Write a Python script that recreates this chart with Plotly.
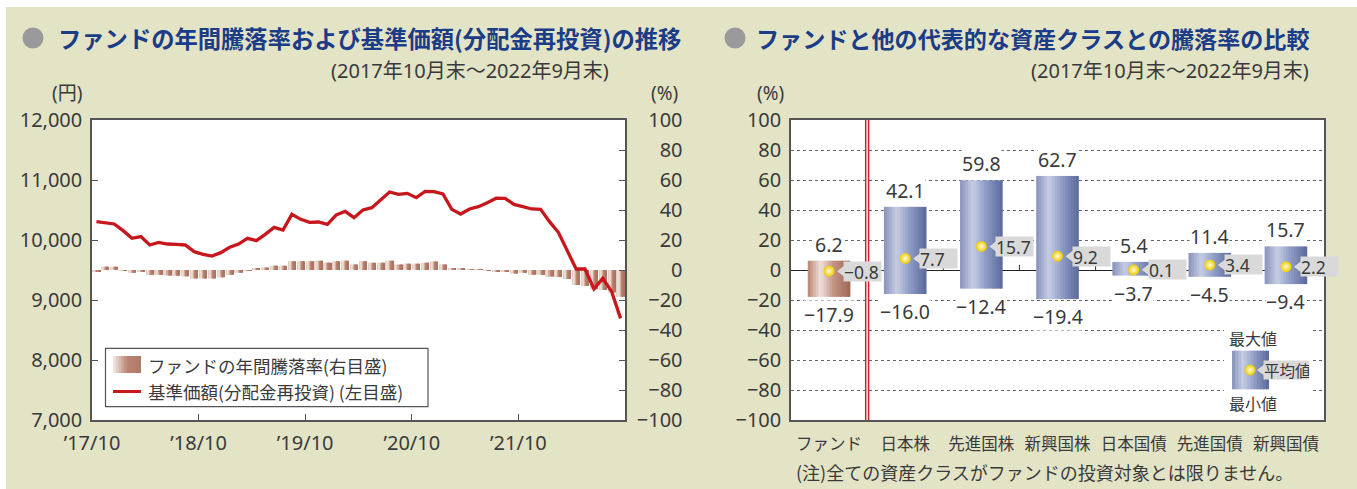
import plotly.graph_objects as go

W, H = 1357, 489

# ---------------- data ----------------
tick_labels_left = ["’17/10", "’18/10", "’19/10", "’20/10", "’21/10"]

# 基準価額（分配金再投資） monthly, 2017/10 .. 2022/09 (円)
nav = [10306, 10283, 10267, 10156, 10028, 10056, 9917, 9961, 9933, 9928,
       9917, 9806, 9761, 9733, 9789, 9878, 9933, 10028, 9989, 10094,
       10211, 10167, 10428, 10344, 10294, 10300, 10261, 10417, 10478, 10372,
       10500, 10539, 10667, 10800, 10761, 10778, 10706, 10811, 10806, 10767,
       10511, 10433, 10517, 10556, 10622, 10697, 10694, 10594, 10556, 10517,
       10511, 10306, 10128, 9833, 9517, 9517, 9183, 9361, 9139, 8694]

# ファンドの年間騰落率 (%)
annual_return = [-0.8, 2.2, 2.2, -0.2, -1.8, -1.1, -3.1, -3.1, -3.6, -3.8,
                 -4.2, -5.6, -5.6, -5.6, -4.9, -3.1, -1.8, -0.3, 0.7, 1.6,
                 2.9, 2.9, 5.8, 5.8, 5.8, 6.2, 4.9, 5.8, 6.2, 3.6,
                 5.8, 4.9, 4.9, 6.2, 3.6, 4.2, 4.2, 4.9, 5.6, 3.6,
                 0.9, 0.9, 0.2, 0.2, -0.4, -0.8, -1.0, -2.4, -1.8, -3.1,
                 -3.1, -4.4, -4.7, -6.0, -10.0, -10.7, -12.9, -13.3, -15.0, -17.9]

categories = ["ファンド", "日本株", "先進国株", "新興国株", "日本国債", "先進国債", "新興国債"]
max_ret = [6.2, 42.1, 59.8, 62.7, 5.4, 11.4, 15.7]
avg_ret = [-0.8, 7.7, 15.7, 9.2, 0.1, 3.4, 2.2]
min_ret = [-17.9, -16.0, -12.4, -19.4, -3.7, -4.5, -9.4]

pct_ticks = [100, 80, 60, 40, 20, 0, -20, -40, -60, -80, -100]

# ---------------- helpers ----------------
def fx(p):
    return p / W

def fy(p):
    return 1 - p / H

def hex2rgb(h):
    h = h.lstrip("#")
    return tuple(int(h[i:i + 2], 16) for i in (0, 2, 4))

def interp(stops, t):
    for (t0, c0), (t1, c1) in zip(stops[:-1], stops[1:]):
        if t0 <= t <= t1:
            a = (t - t0) / (t1 - t0) if t1 > t0 else 0
            r0, r1 = hex2rgb(c0), hex2rgb(c1)
            return "rgb(%d,%d,%d)" % tuple(round(r0[i] + (r1[i] - r0[i]) * a) for i in range(3))
    return stops[-1][1]

def fmt(v):
    return ("%.1f" % v).replace("-", "−")

def pad_tick(v):
    s = str(abs(v))
    if v < 0:
        s = "−" + s
    return "\u2007" * (4 - len(s)) + s

FONT = "Noto Sans, Noto Sans CJK JP, sans-serif"
JP = "Noto Sans CJK JP, Noto Sans, sans-serif"
TXT = "#3a3a3a"
AX = "#555555"

left_stops = [(0, "#dcc5bb"), (0.3, "#f1e6e1"), (0.65, "#b9836f"), (1, "#a96f5c")]
brown_stops = [(0, "#b9826f"), (0.3, "#f0e2dc"), (0.6, "#c39484"), (1, "#9d6553")]
blue_stops = [(0, "#8792bc"), (0.3, "#c6cde3"), (0.6, "#8f9cc5"), (1, "#5a699b")]
legend_stops = [(0, "#f3ece8"), (0.5, "#ba8573"), (1, "#b07a68")]

fig = go.Figure()

# ---------------- left chart: bars (gradient slices) ----------------
n = len(nav)
xs = list(range(n))
NS = 7
BW = 0.82
for k in range(NS):
    w = BW / NS
    fig.add_trace(go.Bar(
        x=xs, y=annual_return, width=w * 1.3 if k < NS - 1 else w,
        offset=-BW / 2 + k * w,
        marker=dict(color=interp(left_stops, (k + 0.5) / NS), line=dict(width=0)),
        xaxis="x", yaxis="y", hoverinfo="skip", showlegend=False))

# line (yen, left axis)
fig.add_trace(go.Scatter(
    x=xs, y=nav, mode="lines", line=dict(color="#c8161d", width=3.3),
    xaxis="x", yaxis="y2", hoverinfo="skip", showlegend=False))

# ---------------- right chart: floating bars ----------------
cx = list(range(len(categories)))
heights = [mx - mn for mx, mn in zip(max_ret, min_ret)]
RNS = 16
RW = 0.56
for k in range(RNS):
    w = RW / RNS
    t = (k + 0.5) / RNS
    cols = [interp(brown_stops if c == 0 else blue_stops, t) for c in cx]
    fig.add_trace(go.Bar(
        x=cx, y=heights, base=min_ret, width=w * 1.3 if k < RNS - 1 else w,
        offset=-RW / 2 + k * w,
        marker=dict(color=cols, line=dict(width=0)),
        xaxis="x2", yaxis="y3", hoverinfo="skip", showlegend=False))

PX_PER_CAT = (1324 - 791) / len(categories)
PX_PER_PCT = 300 / 200.0

def cat_x(px):
    return (px - 791) / PX_PER_CAT - 0.5

def pct_y(py):
    return (270 - py) / PX_PER_PCT

# legend inside right chart (coordinates of the key)
key_dot_x = [cat_x(1250)]
key_dot_y = [pct_y(370)]

# average markers (tags)
fig.add_trace(go.Scatter(
    x=[c + 16 / PX_PER_CAT for c in cx] + [key_dot_x[0] + 15 / PX_PER_CAT],
    y=avg_ret + key_dot_y,
    mode="markers", marker=dict(symbol="triangle-left", size=16, color="#d9d9d9", line=dict(width=0)),
    xaxis="x2", yaxis="y3", hoverinfo="skip", showlegend=False))
fig.add_trace(go.Scatter(
    x=cx + key_dot_x, y=avg_ret + key_dot_y, mode="markers",
    marker=dict(size=11, color="#eccb00", gradient=dict(type="radial", color="#fffbe0"), line=dict(width=0)),
    xaxis="x2", yaxis="y3", hoverinfo="skip", showlegend=False))

annotations = []
shapes = []

for c, v in zip(cx, avg_ret):
    annotations.append(dict(x=c, y=v, xref="x2", yref="y3", text=fmt(v), showarrow=False,
                            xanchor="left", yanchor="middle", xshift=14, width=37, height=19,
                            align="left", bgcolor="#d9d9d9", borderpad=0,
                            font=dict(family=FONT, size=17.5, color=TXT)))
for c, v in zip(cx, max_ret):
    annotations.append(dict(x=c, y=v, xref="x2", yref="y3", text=fmt(v), showarrow=False,
                            xanchor="center", yanchor="bottom", yshift=2, bgcolor="white", borderpad=0,
                            font=dict(family=FONT, size=19.5, color=TXT)))
for c, v in zip(cx, min_ret):
    annotations.append(dict(x=c, y=v, xref="x2", yref="y3", text=fmt(v), showarrow=False,
                            xanchor="center", yanchor="top", yshift=-3, bgcolor="white", borderpad=0,
                            font=dict(family=FONT, size=19.5, color=TXT)))

# key box in right chart
shapes.append(dict(type="rect", xref="x2", yref="y3", x0=cat_x(1224), x1=cat_x(1313),
                   y0=pct_y(326), y1=pct_y(395), fillcolor="white", line=dict(width=0), layer="between"))
KN = 12
kx0, kx1 = cat_x(1232), cat_x(1269)
for k in range(KN):
    w = (kx1 - kx0) / KN
    shapes.append(dict(type="rect", xref="x2", yref="y3", x0=kx0 + k * w,
                       x1=kx0 + (k + 1.3) * w if k < KN - 1 else kx1,
                       y0=pct_y(389.3), y1=pct_y(350.7),
                       fillcolor=interp(blue_stops, (k + 0.5) / KN), line=dict(width=0), layer="between"))
annotations.append(dict(x=key_dot_x[0], y=key_dot_y[0], xref="x2", yref="y3", text="平均値", showarrow=False,
                        xanchor="left", yanchor="middle", xshift=13, width=45, height=18, align="left",
                        bgcolor="#d9d9d9", borderpad=0, font=dict(family=JP, size=15.5, color=TXT)))
annotations.append(dict(x=cat_x(1227), y=pct_y(338), xref="x2", yref="y3", text="最大値", showarrow=False,
                        xanchor="left", yanchor="middle", font=dict(family=JP, size=16, color=TXT)))
annotations.append(dict(x=cat_x(1227), y=pct_y(402.5), xref="x2", yref="y3", text="最小値", showarrow=False,
                        xanchor="left", yanchor="middle", font=dict(family=JP, size=16, color=TXT)))

# category boundary ticks on the zero line
for c in cx[:-1]:
    shapes.append(dict(type="line", xref="x2", yref="y3", x0=c + 0.5, x1=c + 0.5, y0=0, y1=3.5,
                       line=dict(color="#333", width=1), layer="between"))

# red double separator
shapes.append(dict(type="line", xref="x2", yref="y3 domain", x0=0.5, x1=0.5, y0=0, y1=1,
                   line=dict(color="#d0202a", width=4.4), layer="above"))
shapes.append(dict(type="line", xref="x2", yref="y3 domain", x0=0.5, x1=0.5, y0=0, y1=1,
                   line=dict(color="white", width=1.4), layer="above"))

# ---------------- page decorations ----------------
shapes.append(dict(type="rect", xref="paper", yref="paper", x0=0, x1=fx(6), y0=0, y1=1,
                   fillcolor="white", line=dict(width=0), layer="below"))
shapes.append(dict(type="rect", xref="paper", yref="paper", x0=0, x1=1, y0=fy(7), y1=1,
                   fillcolor="white", line=dict(width=0), layer="below"))
for cxp in (33, 735):
    shapes.append(dict(type="circle", xref="paper", yref="paper", x0=fx(cxp - 10.5), x1=fx(cxp + 10.5),
                       y0=fy(48.5), y1=fy(27.5), fillcolor="#9a9a9c", line=dict(width=0)))

TITLE_C = "#1b3c86"
annotations.append(dict(x=fx(56), y=fy(38), xref="paper", yref="paper", showarrow=False,
                        text="<b>ファンドの年間騰落率および基準価額(分配金再投資)の推移</b>",
                        xanchor="left", yanchor="middle", font=dict(family=JP, size=23.3, color=TITLE_C)))
annotations.append(dict(x=fx(754), y=fy(38), xref="paper", yref="paper", showarrow=False,
                        text="<b>ファンドと他の代表的な資産クラスとの騰落率の比較</b>",
                        xanchor="left", yanchor="middle", font=dict(family=JP, size=23.1, color=TITLE_C)))
for xr in (611, 1311):
    annotations.append(dict(x=fx(xr), y=fy(71), xref="paper", yref="paper", showarrow=False,
                            text="(2017年10月末～2022年9月末)", xanchor="right", yanchor="middle",
                            font=dict(family=FONT, size=20, color=TXT)))
annotations.append(dict(x=fx(67), y=fy(93), xref="paper", yref="paper", showarrow=False, text="(円)",
                        xanchor="center", yanchor="middle", font=dict(family=FONT, size=19, color=TXT)))
for xc in (664, 770):
    annotations.append(dict(x=fx(xc), y=fy(93), xref="paper", yref="paper", showarrow=False, text="(%)",
                            xanchor="center", yanchor="middle", font=dict(family=FONT, size=19, color=TXT)))
annotations.append(dict(x=fx(794), y=fy(471.5), xref="paper", yref="paper", showarrow=False,
                        text="(注)全ての資産クラスがファンドの投資対象とは限りません。",
                        xanchor="left", yanchor="middle", font=dict(family=JP, size=18, color=TXT)))

# left legend
shapes.append(dict(type="rect", xref="paper", yref="paper", x0=fx(105.5), x1=fx(428), y0=fy(406.7), y1=fy(348.3),
                   fillcolor="white", line=dict(color=AX, width=1.2), layer="above"))
LN = 10
for k in range(LN):
    w = 28 / LN
    shapes.append(dict(type="rect", xref="paper", yref="paper", x0=fx(113 + k * w),
                       x1=fx(113 + (k + 1.3) * w) if k < LN - 1 else fx(141),
                       y0=fy(373), y1=fy(356), fillcolor=interp(legend_stops, (k + 0.5) / LN),
                       line=dict(width=0), layer="above"))
shapes.append(dict(type="line", xref="paper", yref="paper", x0=fx(113), x1=fx(141), y0=fy(391.5), y1=fy(391.5),
                   line=dict(color="#c8161d", width=3), layer="above"))
annotations.append(dict(x=fx(146), y=fy(365), xref="paper", yref="paper", showarrow=False,
                        text="ファンドの年間騰落率(右目盛)", xanchor="left", yanchor="middle",
                        font=dict(family=JP, size=17.5, color=TXT)))
annotations.append(dict(x=fx(146), y=fy(391.7), xref="paper", yref="paper", showarrow=False,
                        text="基準価額(分配金再投資) (左目盛)", xanchor="left", yanchor="middle",
                        font=dict(family=JP, size=17.5, color=TXT)))

dom_y = [fy(420), fy(120)]
fig.update_layout(
    width=W, height=H, autosize=False, margin=dict(l=0, r=0, t=0, b=0, pad=0),
    paper_bgcolor="#e3e3c6", plot_bgcolor="white", barmode="overlay", showlegend=False,
    font=dict(family=FONT, size=20, color=TXT),
    xaxis=dict(domain=[fx(92), fx(625)], anchor="y", range=[-0.5, n - 0.5], automargin=False,
               tickmode="array", tickvals=[-0.5 + 12 * k for k in range(len(tick_labels_left))],
               ticktext=tick_labels_left, ticks="inside", ticklen=6, tickwidth=1.2, tickcolor=AX,
               showline=True, linecolor=AX, linewidth=1.5, mirror=True, showgrid=False, zeroline=False,
               tickfont=dict(size=20, color=TXT), ticklabelstandoff=4),
    yaxis=dict(domain=dom_y, anchor="x", side="right", range=[-100, 100], automargin=False,
               tickmode="array", tickvals=pct_ticks, ticktext=[pad_tick(v) for v in pct_ticks],
               ticks="inside", ticklen=6, tickwidth=1.2, tickcolor=AX,
               showline=True, linecolor=AX, linewidth=1.5, showgrid=False, zeroline=False,
               tickfont=dict(size=20, color=TXT), ticklabelstandoff=6),
    yaxis2=dict(overlaying="y", anchor="x", side="left", range=[7000, 12000], dtick=1000, tickformat=",d",
                automargin=False, ticks="inside", ticklen=6, tickwidth=1.2, tickcolor=AX,
                showline=True, linecolor=AX, linewidth=1.5, showgrid=False, zeroline=False,
                tickfont=dict(size=20, color=TXT), ticklabelstandoff=4),
    xaxis2=dict(domain=[fx(791), fx(1324)], anchor="y3", range=[-0.5, len(categories) - 0.5],
                automargin=False, tickmode="array", tickvals=cx, ticktext=categories, ticks="",
                showline=True, linecolor=AX, linewidth=1.5, mirror=True, showgrid=False, zeroline=False,
                tickfont=dict(family=JP, size=16.5, color=TXT), ticklabelstandoff=8),
    yaxis3=dict(domain=dom_y, anchor="x2", range=[-100, 100], tickmode="array", tickvals=pct_ticks,
                automargin=False, ticks="", showline=True, linecolor=AX, linewidth=1.5, mirror=True,
                showgrid=True, gridcolor="#666666", griddash="dot", gridwidth=1,
                zeroline=True, zerolinecolor="#222222", zerolinewidth=1.3,
                tickfont=dict(size=20, color=TXT), ticklabelstandoff=4),
    annotations=annotations, shapes=shapes,
)

fig.write_html("out.html", config={"displayModeBar": False},
               post_script="document.body.style.margin='0';")
